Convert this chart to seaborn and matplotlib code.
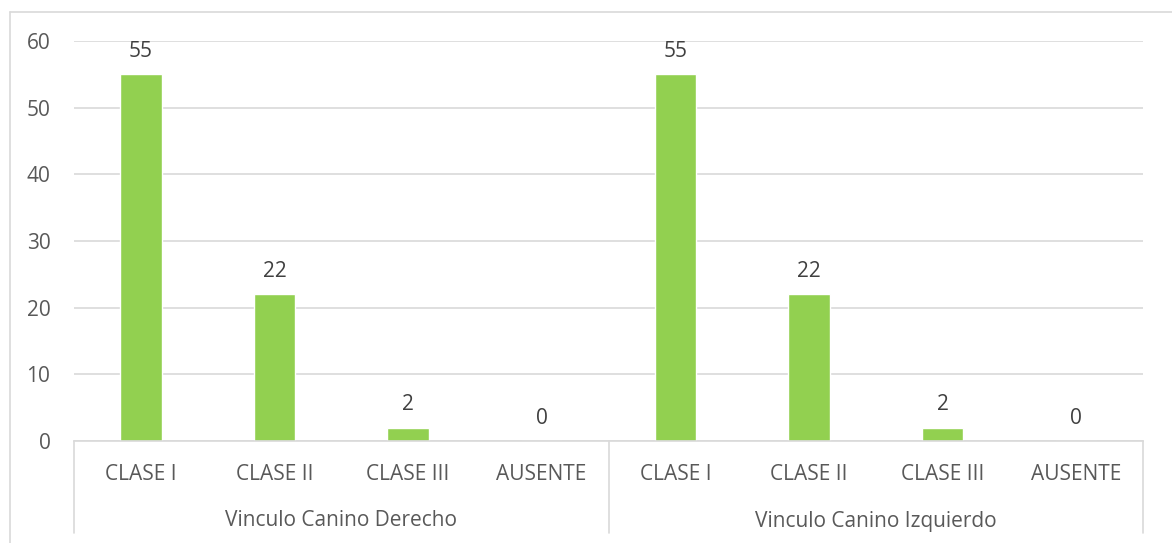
import pandas as pd
import seaborn as sns
import matplotlib.pyplot as plt
from matplotlib.lines import Line2D

# Chart data
groups = ["Vinculo Canino Derecho", "Vinculo Canino Izquierdo"]
classes = ["CLASE I", "CLASE II", "CLASE III", "AUSENTE"]
derecho = [55, 22, 2, 0]
izquierdo = [55, 22, 2, 0]
y_ticks = [0, 10, 20, 30, 40, 50, 60]

df = pd.DataFrame({
    "grupo": [groups[0]] * 4 + [groups[1]] * 4,
    "clase": classes + classes,
    "valor": derecho + izquierdo,
})
df["pos"] = range(len(df))

sns.set_style("white")
plt.rcParams["font.family"] = ["Open Sans", "DejaVu Sans"]
text_color = "#595959"
grid_color = "#d9d9d9"
fs = 15

fig = plt.figure(figsize=(11.72, 5.43), dpi=100)
ax = fig.add_axes([74 / 1172, 1 - 441 / 543, (1143 - 74) / 1172, 400 / 543])

sns.barplot(data=df, x="pos", y="valor", color="#92d050", width=0.31,
            saturation=1, ax=ax)

# value labels
for i, v in enumerate(df["valor"]):
    ax.text(i, v + 3.45, str(v), ha="center", va="center", fontsize=fs,
            color="#404040")

ax.set_ylim(0, 60)
ax.set_xlim(-0.5, len(df) - 0.5)
ax.set_yticks(y_ticks)
ax.set_yticklabels([str(t) for t in y_ticks], fontsize=fs, color=text_color)
ax.tick_params(axis="y", length=0, pad=17)
ax.tick_params(axis="x", length=0)
ax.set_xticks([])
ax.set_xlabel("")
ax.set_ylabel("")
ax.yaxis.grid(True, color=grid_color, linewidth=1.2)
ax.set_axisbelow(True)
for s in ["top", "right", "left"]:
    ax.spines[s].set_visible(False)
ax.spines["bottom"].set_color(grid_color)
ax.spines["bottom"].set_linewidth(1.2)

# two-level category axis
trans = ax.get_xaxis_transform()
for i, c in enumerate(df["clase"]):
    ax.text(i, -0.083, c, transform=trans, ha="center", va="center",
            fontsize=fs, color=text_color)
for g, name in enumerate(groups):
    ax.text(g * 4 + 1.5, -0.2, name, transform=trans, ha="center",
            va="center", fontsize=fs, color=text_color)
for xb in [-0.5, 3.5, 7.5]:
    ax.add_line(Line2D([xb, xb], [0, -0.23], transform=trans, color=grid_color,
                       linewidth=1.2, clip_on=False))

# chart frame
fig.add_artist(Line2D([10 / 1172, 10 / 1172], [0, 1 - 12 / 543],
                      transform=fig.transFigure, color=grid_color, linewidth=1.2))
fig.add_artist(Line2D([10 / 1172, 1], [1 - 12 / 543, 1 - 12 / 543],
                      transform=fig.transFigure, color=grid_color, linewidth=1.2))

fig.savefig("out.png", dpi=100)
